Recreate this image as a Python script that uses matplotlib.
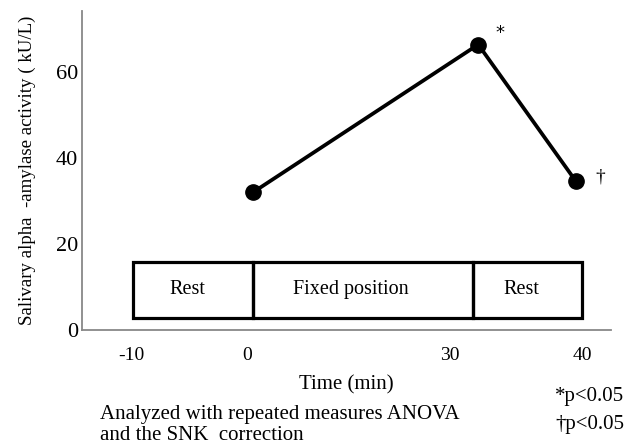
import matplotlib
matplotlib.use("Agg")
import matplotlib.pyplot as plt
from matplotlib.patches import Rectangle

plt.rcParams['font.family'] = ['Liberation Serif', 'DejaVu Serif']

# x is a drawing position (0-100 along the axis); the original axis is not to scale
tick_pos = [9.3, 31.2, 69.6, 94.5]
tick_labels = ['-10', '0', '30', '40']
point_pos = [32.3, 74.9, 93.3]
amylase = [32, 66.4, 34.7]
marks = ['', '*', '\u2020']

phase_names = ['Rest', 'Fixed position', 'Rest']
phase_edges = [9.6, 32.3, 73.9, 94.5]


def main():
	fig = plt.figure(figsize=(6.37, 4.45), dpi=100)
	ax = fig.add_axes([0.1287, 0.2584, 0.8305, 0.7169])

	ax.plot(point_pos, amylase, color='black', lw=2.7, marker='o', ms=11, zorder=3)
	offsets = {'*': (16, 8), '\u2020': (18, 3)}
	for x, y, m in zip(point_pos, amylase, marks):
		if m:
			ax.annotate(m, (x, y), xytext=offsets[m], textcoords='offset points',
				ha='center', va='center', fontsize=13 if m == '*' else 14,
				family='DejaVu Sans' if m == '*' else None)

	shift = [-4, -9, -4]
	for i, name in enumerate(phase_names):
		x0, x1 = phase_edges[i], phase_edges[i + 1]
		ax.add_patch(Rectangle((x0, 2.8), x1 - x0, 13.0, fill=False, ec='black', lw=2.3, zorder=2))
		ax.annotate(name, ((x0 + x1) / 2, 9.4), xytext=(shift[i], 0), textcoords='offset points',
			ha='center', va='center', fontsize=14.5)

	ax.set_xlim(0, 100)
	ax.set_ylim(0, 74.2)
	ax.set_xticks(tick_pos)
	ax.set_xticklabels(tick_labels)
	ax.set_yticks([0, 20, 40, 60])
	ax.tick_params(axis='x', length=0, labelsize=14, pad=12)
	ax.tick_params(axis='y', length=0, labelsize=16, pad=3)
	for s in ['top', 'right']:
		ax.spines[s].set_visible(False)
	for s in ['left', 'bottom']:
		ax.spines[s].set_color('#888888')
		ax.spines[s].set_linewidth(1.3)

	ax.set_xlabel('Time (min)', fontsize=15, labelpad=8)
	ax.set_ylabel('Salivary alpha  -amylase activity ( kU/L)', fontsize=13.6, labelpad=14)

	fig.text(100 / 637, 1 - 415 / 445, 'Analyzed with repeated measures ANOVA', fontsize=15, va='center')
	fig.text(100 / 637, 1 - 436 / 445, 'and the SNK  correction', fontsize=15, va='center')
	fig.text(555 / 637, 1 - 397 / 445, '*p<0.05', fontsize=15, va='center')
	fig.text(555 / 637, 1 - 425 / 445, '\u2020p<0.05', fontsize=15, va='center')

	plt.savefig('out.png', dpi=100)


if __name__ == '__main__':
	main()
